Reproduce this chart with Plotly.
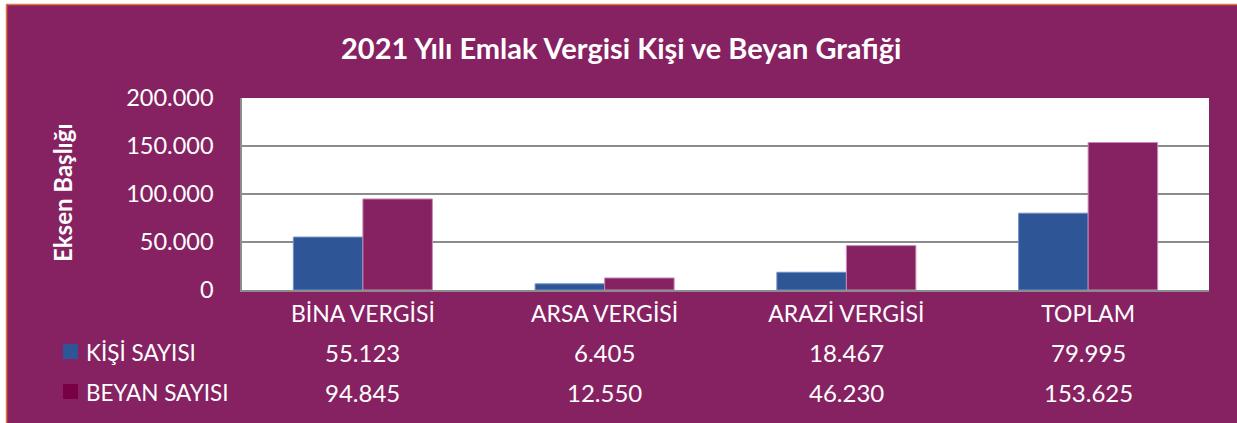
import plotly.graph_objects as go

categories = ["BİNA VERGİSİ", "ARSA VERGİSİ", "ARAZİ VERGİSİ", "TOPLAM"]
kisi_sayisi = [55123, 6405, 18467, 79995]
beyan_sayisi = [94845, 12550, 46230, 153625]
series_names = ["KİŞİ SAYISI", "BEYAN SAYISI"]
title_text = "2021 Yılı Emlak Vergisi Kişi ve Beyan Grafiği"
y_title = "Eksen Başlığı"

W, H = 1237, 423
L, R, T, B = 242, 28, 98, 133
PW = W - L - R
PH = H - T - B

PURPLE = "#862262"
BLUE = "#2E5596"
BEYAN_MARK = "#7A0044"
FONT = "Lato, 'Open Sans', sans-serif"


def px_x(px):
    return (px - L) / PW


def px_y(py):
    return (H - B - py) / PH


def fmt(v):
    return f"{v:,}".replace(",", ".")


fig = go.Figure()
fig.add_bar(x=categories, y=kisi_sayisi, name=series_names[0],
            marker=dict(color=BLUE, line=dict(color="#6F8FC8", width=1)))
fig.add_bar(x=categories, y=beyan_sayisi, name=series_names[1],
            marker=dict(color=PURPLE, line=dict(color="#C98AB8", width=1)))

annotations = []
# title
annotations.append(dict(text=f"<b>{title_text}</b>", x=px_x(621), y=px_y(48),
                        xref="paper", yref="paper", showarrow=False,
                        xanchor="center", yanchor="middle",
                        font=dict(size=29, color="white", family=FONT)))
# y title
annotations.append(dict(text=f"<b>{y_title}</b>", x=px_x(62), y=px_y(193),
                        xref="paper", yref="paper", showarrow=False, textangle=-90,
                        xanchor="center", yanchor="middle",
                        font=dict(size=24, color="white", family=FONT)))

rows = [(series_names[0], kisi_sayisi, BLUE, 352),
        (series_names[1], beyan_sayisi, BEYAN_MARK, 392)]
shapes = []
for name, vals, col, ypix in rows:
    shapes.append(dict(type="rect", xref="paper", yref="paper",
                       x0=px_x(63), x1=px_x(78), y0=px_y(ypix + 7), y1=px_y(ypix - 8),
                       fillcolor=col, line=dict(width=0)))
    annotations.append(dict(text=name, x=px_x(84), y=px_y(ypix), xref="paper", yref="paper",
                            xanchor="left", yanchor="middle", showarrow=False,
                            font=dict(size=22.5, color="white", family=FONT)))
    for c, v in zip(categories, vals):
        annotations.append(dict(text=fmt(v), x=c, y=px_y(ypix), xref="x", yref="paper",
                                xanchor="center", yanchor="middle", showarrow=False,
                                font=dict(size=24, color="white", family=FONT)))

# white margin strips and orange frame lines
shapes.append(dict(type="rect", xref="paper", yref="paper", x0=px_x(0), x1=px_x(W),
                   y0=px_y(4), y1=px_y(-5), fillcolor="white", line=dict(width=0)))
shapes.append(dict(type="rect", xref="paper", yref="paper", x0=px_x(-5), x1=px_x(6),
                   y0=px_y(H + 5), y1=px_y(0), fillcolor="white", line=dict(width=0)))
shapes.append(dict(type="line", xref="paper", yref="paper", x0=px_x(6.5), x1=px_x(W + 5),
                   y0=px_y(4.5), y1=px_y(4.5), line=dict(color="#E07A3A", width=1.5)))
shapes.append(dict(type="line", xref="paper", yref="paper", x0=px_x(6.5), x1=px_x(6.5),
                   y0=px_y(4.5), y1=px_y(H + 5), line=dict(color="#E07A3A", width=1.5)))

fig.update_layout(
    width=W, height=H,
    margin=dict(l=L, r=R, t=T, b=B, pad=0),
    paper_bgcolor=PURPLE, plot_bgcolor="white",
    separators=",.",
    barmode="group", bargap=0.425, bargroupgap=0,
    showlegend=False,
    font=dict(family=FONT, color="white"),
    annotations=annotations, shapes=shapes,
    xaxis=dict(showgrid=False, showline=True, linecolor="#8C8C8C", linewidth=2,
               tickfont=dict(size=23, color="white", family=FONT), ticks="",
               ticklabelstandoff=2, fixedrange=True),
    yaxis=dict(range=[0, 200000], dtick=50000, tickformat=",d",
               showgrid=True, gridcolor="#8C8C8C", gridwidth=2,
               showline=True, linecolor="#8C8C8C", linewidth=1.5, zeroline=False,
               tickfont=dict(size=23.5, color="white", family=FONT),
               ticks="", ticklabelstandoff=22, fixedrange=True),
)

fig.write_html("out.html", config={"displayModeBar": False},
               post_script="document.body.style.margin='0';")
